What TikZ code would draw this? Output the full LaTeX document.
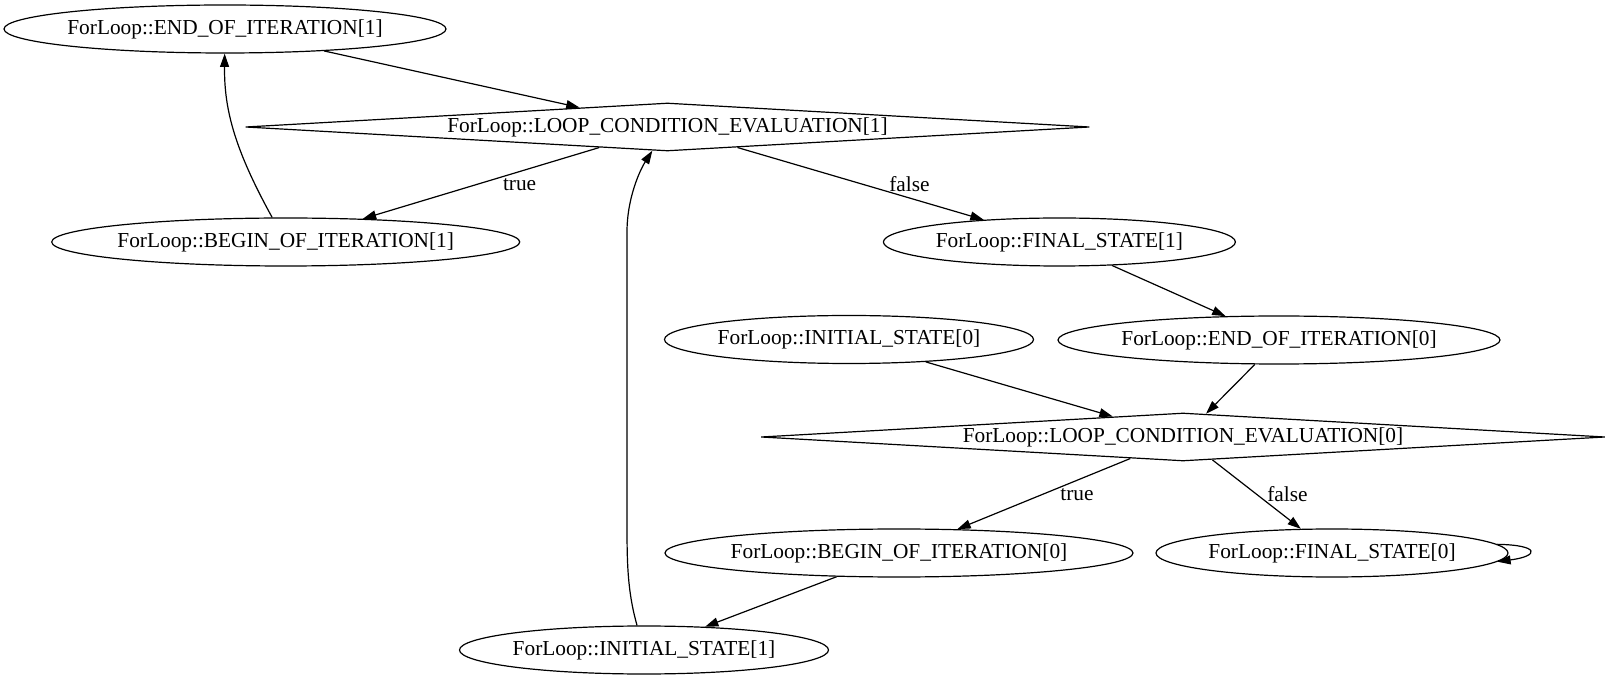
\documentclass[tikz,border=0pt]{standalone}
\usepackage{fontspec}
\setmainfont{Liberation Serif}
\usetikzlibrary{shapes.geometric,arrows.meta}
\tikzset{
  stnode/.style={draw, ellipse, line width=0.9pt, inner xsep=-6pt, inner ysep=0pt,
    minimum height=36pt, font=\fontsize{16}{19}\selectfont},
  condnode/.style={draw, diamond, aspect=17.58, line width=0.9pt, inner xsep=0pt,
    inner ysep=-4pt, minimum width=633pt, minimum height=36pt, font=\fontsize{16}{19}\selectfont},
  flow/.style={line width=0.9pt, -{Triangle[length=10pt,width=6.7pt]}},
  elabel/.style={font=\fontsize{16}{19}\selectfont, inner sep=0pt},
}
\begin{document}
\begin{tikzpicture}[x=0.75pt,y=-0.75pt]
\useasboundingbox (0,0) rectangle (1610,680);

\node[stnode, minimum width=331.5pt] (end1) at (225,29) {ForLoop::END\_OF\_ITERATION[1]};
\node[condnode] (lce1) at (667.5,127) {ForLoop::LOOP\_CONDITION\_EVALUATION[1]};
\node[stnode, minimum width=351pt] (begin1) at (285.7,242) {ForLoop::BEGIN\_OF\_ITERATION[1]};
\node[stnode, minimum width=264pt] (final1) at (1059.4,242) {ForLoop::FINAL\_STATE[1]};
\node[stnode, minimum width=276.75pt] (init0) at (849,339.5) {ForLoop::INITIAL\_STATE[0]};
\node[stnode, minimum width=331.5pt] (end0) at (1279,340) {ForLoop::END\_OF\_ITERATION[0]};
\node[condnode] (lce0) at (1183,437) {ForLoop::LOOP\_CONDITION\_EVALUATION[0]};
\node[stnode, minimum width=351pt] (begin0) at (899,553) {ForLoop::BEGIN\_OF\_ITERATION[0]};
\node[stnode, minimum width=264pt] (final0) at (1332,553) {ForLoop::FINAL\_STATE[0]};
\node[stnode, minimum width=276.75pt] (init1) at (644,650) {ForLoop::INITIAL\_STATE[1]};

\draw[flow] (end1) -- (lce1);
\draw[flow] (lce1) -- (begin1);
\draw[flow] (lce1) -- (final1);
\draw[flow] (begin1) .. controls (235,150) and (224,110) .. (end1);
\draw[flow] (init1) .. controls (627,590) and (627,560) .. (627,520) -- (627,232)
  .. controls (627,198) and (640,170) .. (lce1);
\draw[flow] (final1) -- (end0);
\draw[flow] (init0) -- (lce0);
\draw[flow] (end0) -- (lce0);
\draw[flow] (lce0) -- (begin0);
\draw[flow] (lce0) -- (final0);
\draw[flow] (begin0) -- (init1);
\draw[flow] (final0.3) .. controls (1540,545) and (1540,556) .. (final0.-3);

\node[elabel] (true1) at (519.6,184.3) {true};
\node[elabel] (false1) at (909.4,184) {false};
\node[elabel] (true0) at (1077,495) {true};
\node[elabel] (false0) at (1287.5,494) {false};
\end{tikzpicture}
\end{document}
